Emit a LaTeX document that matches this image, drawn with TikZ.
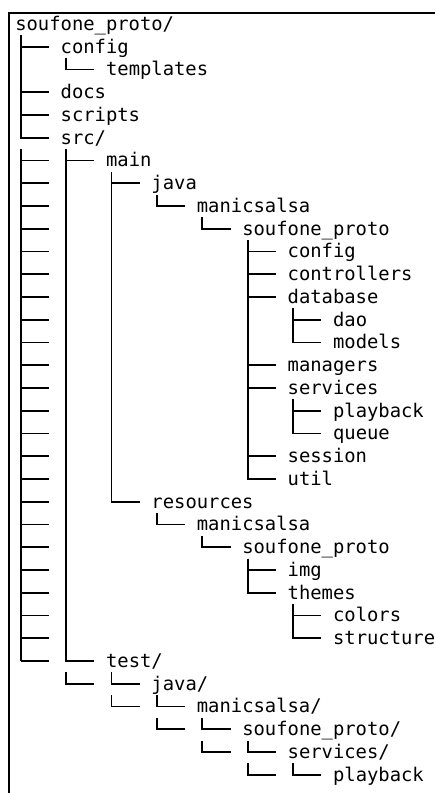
\documentclass[tikz,border=0pt]{standalone}
\usepackage{fontspec}
\newfontfamily\treefont{DejaVu Sans Mono}
\usetikzlibrary{calc}

\tikzset{
  entry/.style={font=\treefont\fontsize{13.4}{16}\selectfont, anchor=base west, inner sep=0pt},
  branch/.style={line width=1.4pt},
  frame/.style={line width=1.4pt}
}

\begin{document}
\begin{tikzpicture}[x=0.025cm,y=0.025cm]
\useasboundingbox (0,0) rectangle (435,-793);

% Frame
\draw[frame] (435,-13) -- (9,-13) -- (9,-793);

% Entries
\node[entry] (root) at (15,-30.3) {soufone\_proto/};
\node[entry] (config) at (60.4,-53.05) {config};
\node[entry] (templates) at (105.8,-75.8) {templates};
\node[entry] (docs) at (60.4,-98.55) {docs};
\node[entry] (scripts) at (60.4,-121.3) {scripts};
\node[entry] (src) at (60.4,-144.05) {src/};
\node[entry] (main) at (105.8,-166.8) {main};
\node[entry] (java) at (151.2,-189.55) {java};
\node[entry] (manic) at (196.6,-212.3) {manicsalsa};
\node[entry] (proto) at (242,-235.05) {soufone\_proto};
\node[entry] (cfg) at (287.4,-257.8) {config};
\node[entry] (ctrl) at (287.4,-280.55) {controllers};
\node[entry] (db) at (287.4,-303.3) {database};
\node[entry] (dao) at (332.8,-326.05) {dao};
\node[entry] (models) at (332.8,-348.8) {models};
\node[entry] (mgrs) at (287.4,-371.55) {managers};
\node[entry] (services) at (287.4,-394.3) {services};
\node[entry] (playback) at (332.8,-417.05) {playback};
\node[entry] (queue) at (332.8,-439.8) {queue};
\node[entry] (session) at (287.4,-462.55) {session};
\node[entry] (util) at (287.4,-485.3) {util};
\node[entry] (res) at (151.2,-508.05) {resources};
\node[entry] (rmanic) at (196.6,-530.8) {manicsalsa};
\node[entry] (rproto) at (242,-553.55) {soufone\_proto};
\node[entry] (img) at (287.4,-576.3) {img};
\node[entry] (themes) at (287.4,-599.05) {themes};
\node[entry] (colors) at (332.8,-621.8) {colors};
\node[entry] (structure) at (332.8,-644.55) {structure};
\node[entry] (test) at (105.8,-667.3) {test/};
\node[entry] (tjava) at (151.2,-690.05) {java/};
\node[entry] (tmanic) at (196.6,-712.8) {manicsalsa/};
\node[entry] (tproto) at (242,-735.55) {soufone\_proto/};
\node[entry] (tservices) at (287.4,-758.3) {services/};
\node[entry] (tplayback) at (332.8,-781.05) {playback};

% Branches parent -> child
\foreach \p/\c in {root/config, config/templates, root/docs, root/scripts, root/src,
  src/main, src/test, main/java, main/res, java/manic, manic/proto,
  proto/cfg, proto/ctrl, proto/db, proto/mgrs, proto/services, proto/session, proto/util,
  db/dao, db/models, services/playback, services/queue,
  res/rmanic, rmanic/rproto, rproto/img, rproto/themes, themes/colors, themes/structure,
  test/tjava, tjava/tmanic, tmanic/tproto, tproto/tservices, tservices/tplayback}
  \draw[branch] ([shift={(5.7,-5.1)}]\p.base west) |- ([shift={(-11.35,6.3)}]\c.base west);

% Stubs in the first column
\draw[branch] ($(src.base west -| root.base west)+(5.7,-5.1)$) -- ($(test.base west -| root.base west)+(5.7,6.3)$);
\foreach \c in {main, java, manic, proto, cfg, ctrl, db, dao, models, mgrs, services, playback,
  queue, session, util, res, rmanic, rproto, img, themes, colors, structure, test}
  \draw[branch] ($(\c.base west -| root.base west)+(5.7,6.3)$) -- ++(28.3,0);

% Extra corners under test/
\foreach \c in {tjava, tmanic, tproto, tservices, tplayback}
  \draw[branch] ([shift={(-85.1,17.7)}]\c.base west) |- ([shift={(-56.75,6.3)}]\c.base west);
\end{tikzpicture}
\end{document}
